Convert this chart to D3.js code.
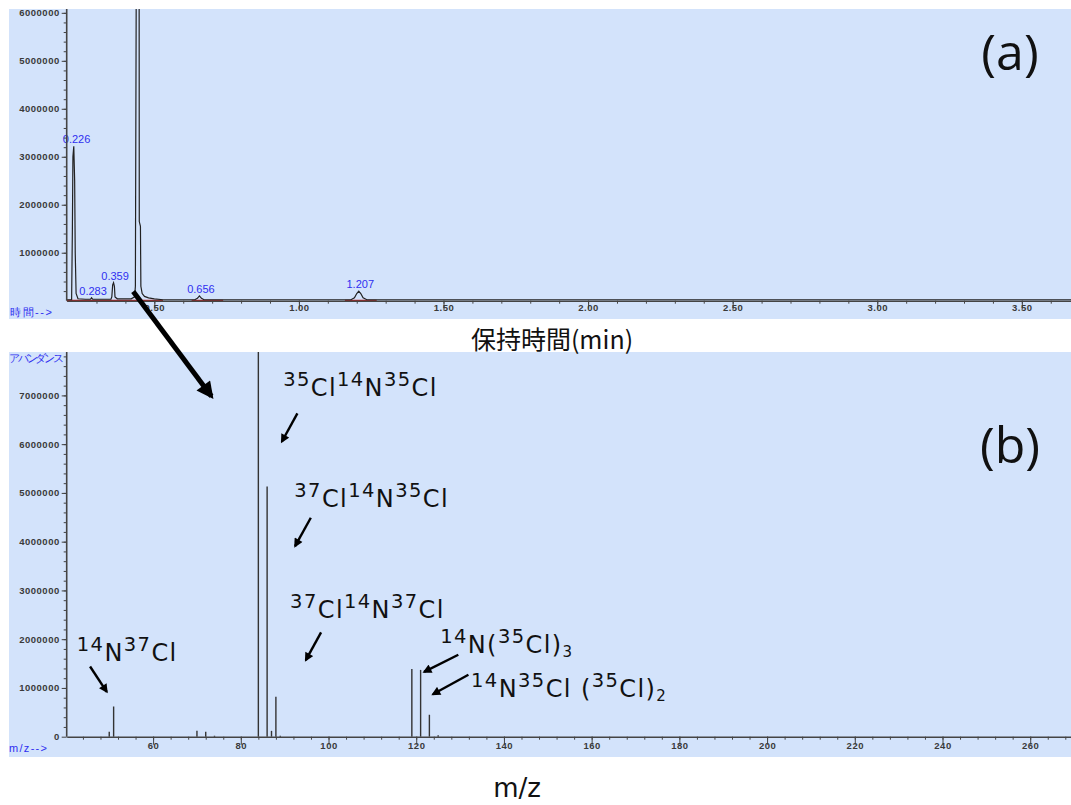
<!DOCTYPE html>
<html lang="ja">
<head>
<meta charset="UTF-8">
<title>GC-MS chromatogram and mass spectrum</title>
<script src="https://d3js.org/d3.v7.min.js"></script>
<style>
  body { margin: 0; background: #fff; }
  .tick text { font: bold 9.5px "Liberation Sans", Arial, sans-serif; fill: #3a3a3a; letter-spacing: 0.5px; }
  .tick line, .domain { stroke: #444; }
  .blue { fill: #2f2ff0; font: 11px "Liberation Sans", Arial, sans-serif; }
  .ann { font-family: "DejaVu Sans", Verdana, sans-serif; fill: #111; letter-spacing: 1.4px; }
</style>
</head>
<body>
<script>
// (a) total ion chromatogram, time in min, signal in counts
const chromTime = [0.197, 0.214, 0.2165, 0.2185, 0.2215, 0.2245, 0.2265, 0.2295, 0.236, 0.262,
  0.279, 0.283, 0.287, 0.300, 0.350, 0.353, 0.356, 0.359, 0.362, 0.364, 0.372, 0.420, 0.432,
  0.4345, 0.441, 0.4475, 0.448, 0.452, 0.4535, 0.458, 0.466, 0.480, 0.500, 0.530, 0.640, 0.649,
  0.656, 0.663, 0.672, 1.180, 1.192, 1.200, 1.207, 1.214, 1.222, 1.235, 3.670];
const chromSignal = [0.02, 0.02, 1.4, 3.0, 3.22, 2.5, 1.0, 0.15, 0.04, 0.03,
  0.03, 0.06, 0.03, 0.03, 0.03, 0.08, 0.33, 0.375, 0.3, 0.08, 0.04, 0.04, 0.08,
  0.3, 14.0, 6.5, 1.65, 1.55, 0.3, 0.15, 0.09, 0.06, 0.04, 0.02, 0.02, 0.05,
  0.1, 0.05, 0.02, 0.02, 0.06, 0.15, 0.2, 0.15, 0.06, 0.02, 0.02].map(v => v * 1e6);

// labelled peaks
const peakTimes = [0.226, 0.283, 0.359, 0.656, 1.207];
const peakHeights = [3.22e6, 0.05e6, 0.375e6, 0.1e6, 0.2e6];

// integration baselines (red)
const baseStart = [0.197, 0.629, 1.159];
const baseEnd = [0.530, 0.738, 1.269];

const timeTicks = [0.5, 1.0, 1.5, 2.0, 2.5, 3.0, 3.5];
const chromTicks = [1e6, 2e6, 3e6, 4e6, 5e6, 6e6];

// (b) mass spectrum
const mzValues = [50, 51, 70, 72, 74, 84, 86, 87, 88, 89, 119, 121, 123, 125];
const abundance = [0.1, 0.62, 0.12, 0.1, 0.02, 7.9, 5.13, 0.12, 0.82, 0.02, 1.39, 1.37, 0.45, 0.03]
  .map(v => v * 1e6);
const mzTicks = [60, 80, 100, 120, 140, 160, 180, 200, 220, 240, 260];
const specTicks = [0, 1e6, 2e6, 3e6, 4e6, 5e6, 6e6, 7e6];

// ion labels, placed in spectrum coordinates [m/z, abundance]
const annotations = [
  { parts: [["35", "sup"], ["Cl"], ["14", "sup"], ["N"], ["35", "sup"], ["Cl"]],
    at: [89.65, 6.99e6], tail: [92.9, 6.63e6], head: [89.35, 6.05e6] },
  { parts: [["37", "sup"], ["Cl"], ["14", "sup"], ["N"], ["35", "sup"], ["Cl"]],
    at: [92.2, 4.72e6], tail: [95.96, 4.49e6], head: [92.38, 3.91e6] },
  { parts: [["37", "sup"], ["Cl"], ["14", "sup"], ["N"], ["37", "sup"], ["Cl"]],
    at: [91.24, 2.43e6], tail: [98.3, 2.14e6], head: [94.82, 1.57e6] },
  { parts: [["14", "sup"], ["N("], ["35", "sup"], ["Cl)"], ["3", "sub"]],
    at: [125.45, 1.71e6], tail: [129.6, 1.68e6], head: [121.8, 1.33e6] },
  { parts: [["14", "sup"], ["N"], ["35", "sup"], ["Cl ("], ["35", "sup"], ["Cl)"], ["2", "sub"]],
    at: [132.5, 0.82e6], tail: [131.9, 1.27e6], head: [123.8, 0.87e6] },
  { parts: [["14", "sup"], ["N"], ["37", "sup"], ["Cl"]],
    at: [42.6, 1.56e6], tail: [45.63, 1.44e6], head: [49.44, 0.92e6] }
];

const width = 1071, height = 805;
const panelA = { x: 9, y: 9, w: 1062, h: 310 };
const panelB = { x: 9, y: 352, w: 1062, h: 405 };
const plotLeft = 66.7;

const svg = d3.select("body").append("svg")
    .attr("width", width)
    .attr("height", height);

const defs = svg.append("defs");
defs.append("clipPath").attr("id", "clipA").append("rect")
    .attr("x", plotLeft).attr("y", panelA.y).attr("width", width - plotLeft).attr("height", 296);
defs.append("clipPath").attr("id", "clipB").append("rect")
    .attr("x", plotLeft).attr("y", panelB.y).attr("width", width - plotLeft).attr("height", 390);
defs.append("marker").attr("id", "head")
    .attr("viewBox", "0 0 10 10").attr("refX", 8).attr("refY", 5)
    .attr("markerWidth", 10).attr("markerHeight", 9)
    .attr("markerUnits", "userSpaceOnUse").attr("orient", "auto")
  .append("path").attr("d", "M0,0L10,5L0,10z").attr("fill", "#000");
defs.append("marker").attr("id", "bighead")
    .attr("viewBox", "0 0 10 10").attr("refX", 8).attr("refY", 5)
    .attr("markerWidth", 20).attr("markerHeight", 17)
    .attr("markerUnits", "userSpaceOnUse").attr("orient", "auto")
  .append("path").attr("d", "M0,0L10,5L0,10z").attr("fill", "#000");

// panel backgrounds
[panelA, panelB].forEach(p => {
  svg.append("rect")
      .attr("x", p.x).attr("y", p.y).attr("width", p.w).attr("height", p.h)
      .attr("fill", "#d3e3fb");
});

// ---------- (a) chromatogram ----------
const xA = d3.scaleLinear().domain([0.197, 3.67]).range([plotLeft, width]);
const yA = d3.scaleLinear().domain([0, 6.08e6]).range([300.7, 9]);

const gA = svg.append("g");

gA.append("g").attr("clip-path", "url(#clipA)")
  .selectAll("line.base")
  .data(baseStart)
  .enter().append("line")
    .attr("x1", d => xA(d))
    .attr("x2", (d, i) => xA(baseEnd[i]))
    .attr("y1", yA(0)).attr("y2", yA(0))
    .attr("stroke", "#c41e1e")
    .attr("stroke-width", 2);

gA.append("path")
    .datum(chromTime.map((t, i) => [t, chromSignal[i]]))
    .attr("clip-path", "url(#clipA)")
    .attr("fill", "none")
    .attr("stroke", "#222")
    .attr("stroke-width", 1.2)
    .attr("d", d3.line().x(d => xA(d[0])).y(d => yA(d[1])));

gA.selectAll("text.peak")
  .data(peakTimes)
  .enter().append("text")
    .attr("class", "blue")
    .attr("x", d => xA(d) + 1.5)
    .attr("y", (d, i) => yA(peakHeights[i]) - 3)
    .attr("text-anchor", "middle")
    .text(d => d3.format(".3f")(d));

// axes (a)
gA.append("g")
    .attr("transform", `translate(${plotLeft},0)`)
    .call(d3.axisLeft(yA).tickValues(d3.range(2e5, 6.08e6, 2e5)).tickSize(3).tickFormat(""))
    .call(g => g.select(".domain").remove());
gA.append("g")
    .attr("transform", `translate(${plotLeft},0)`)
    .call(d3.axisLeft(yA).tickValues(chromTicks).tickSize(5).tickSizeOuter(0)
      .tickFormat(d3.format("d")).tickPadding(2))
    .call(g => g.select(".domain").attr("stroke-width", 1.6).attr("d", `M0,${panelA.y}V${yA(0)}`));

gA.append("g")
    .attr("transform", `translate(0,${yA(0)})`)
    .call(d3.axisBottom(xA).tickValues(d3.range(0.3, 3.67, 0.1)).tickSize(3).tickFormat(""))
    .call(g => g.select(".domain").remove());
gA.append("g")
    .attr("transform", `translate(0,${yA(0)})`)
    .call(d3.axisBottom(xA).tickValues(timeTicks).tickSize(8).tickSizeOuter(0)
      .tickFormat(d3.format(".2f")).tickPadding(-4))
    .call(g => g.select(".domain").attr("stroke-width", 1.4));

svg.append("text")
    .attr("class", "blue")
    .attr("x", 10).attr("y", 316)
    .attr("textLength", 42)
    .text("時間-->");

svg.append("text")
    .attr("x", 1010).attr("y", 70)
    .attr("font-family", "'Open Sans', sans-serif")
    .attr("font-size", 50)
    .attr("fill", "#111")
    .attr("text-anchor", "middle")
    .text("(a)");

svg.append("text")
    .attr("x", 552).attr("y", 349)
    .attr("font-family", "'Noto Sans CJK JP', sans-serif")
    .attr("font-size", 25)
    .attr("fill", "#111")
    .attr("text-anchor", "middle")
    .text("保持時間(min)");

// ---------- (b) mass spectrum ----------
const xB = d3.scaleLinear().domain([40.3, 269.3]).range([plotLeft, width]);
const yB = d3.scaleLinear().domain([0, 7.89e6]).range([736.7, panelB.y]);

const gB = svg.append("g");

gB.append("g").attr("clip-path", "url(#clipB)")
  .selectAll("line.peak")
  .data(mzValues)
  .enter().append("line")
    .attr("x1", d => xB(d)).attr("x2", d => xB(d))
    .attr("y1", yB(0))
    .attr("y2", (d, i) => yB(abundance[i]))
    .attr("stroke", "#333")
    .attr("stroke-width", 1.4);

gB.append("g")
    .attr("transform", `translate(${plotLeft},0)`)
    .call(d3.axisLeft(yB).tickValues(d3.range(2e5, 7.89e6, 2e5)).tickSize(3).tickFormat(""))
    .call(g => g.select(".domain").remove());
gB.append("g")
    .attr("transform", `translate(${plotLeft},0)`)
    .call(d3.axisLeft(yB).tickValues(specTicks).tickSize(5).tickSizeOuter(0)
      .tickFormat(d3.format("d")).tickPadding(2))
    .call(g => g.select(".domain").attr("stroke-width", 1.6).attr("d", `M0,${panelB.y}V${yB(0)}`));

gB.append("g")
    .attr("transform", `translate(0,${yB(0)})`)
    .call(d3.axisBottom(xB).tickValues(d3.range(44, 269, 4)).tickSize(3).tickFormat(""))
    .call(g => g.select(".domain").remove());
gB.append("g")
    .attr("transform", `translate(0,${yB(0)})`)
    .call(d3.axisBottom(xB).tickValues(mzTicks).tickSize(8).tickSizeOuter(0)
      .tickFormat(d3.format("d")).tickPadding(-2))
    .call(g => g.select(".domain").attr("stroke-width", 1.4));

svg.append("text")
    .attr("class", "blue")
    .attr("x", 9).attr("y", 362)
    .attr("textLength", 55)
    .text("アバンダンス");
svg.append("text")
    .attr("class", "blue")
    .attr("x", 9).attr("y", 752)
    .attr("textLength", 38)
    .text("m/z-->");

svg.append("text")
    .attr("x", 1010).attr("y", 463)
    .attr("font-family", "'Open Sans', sans-serif")
    .attr("font-size", 50)
    .attr("fill", "#111")
    .attr("text-anchor", "middle")
    .text("(b)");

svg.append("text")
    .attr("x", 517).attr("y", 797)
    .attr("font-family", "'DejaVu Sans', Verdana, sans-serif")
    .attr("font-size", 26)
    .attr("fill", "#111")
    .attr("text-anchor", "middle")
    .text("m/z");

// ion labels with isotope superscripts
const shiftOf = { sup: -10, sub: 4, base: 0 };
const sizeOf = { sup: 19.5, sub: 15, base: 24 };
annotations.forEach(a => {
  const t = svg.append("text")
      .attr("class", "ann")
      .attr("x", xB(a.at[0]))
      .attr("y", yB(a.at[1]));
  let shift = 0;
  a.parts.forEach(([s, kind]) => {
    const k = kind || "base";
    t.append("tspan")
        .attr("dy", shiftOf[k] - shift)
        .attr("font-size", sizeOf[k])
        .text(s);
    shift = shiftOf[k];
  });
  svg.append("line")
      .attr("x1", xB(a.tail[0])).attr("y1", yB(a.tail[1]))
      .attr("x2", xB(a.head[0])).attr("y2", yB(a.head[1]))
      .attr("stroke", "#000")
      .attr("stroke-width", 2.4)
      .attr("marker-end", "url(#head)");
});

// arrow linking the main peak in (a) to its spectrum in (b)
svg.append("line")
    .attr("x1", xA(0.427)).attr("y1", yA(0.19e6))
    .attr("x2", xB(73.3)).attr("y2", yB(6.98e6))
    .attr("stroke", "#000")
    .attr("stroke-width", 5)
    .attr("marker-end", "url(#bighead)");
</script>
</body>
</html>
